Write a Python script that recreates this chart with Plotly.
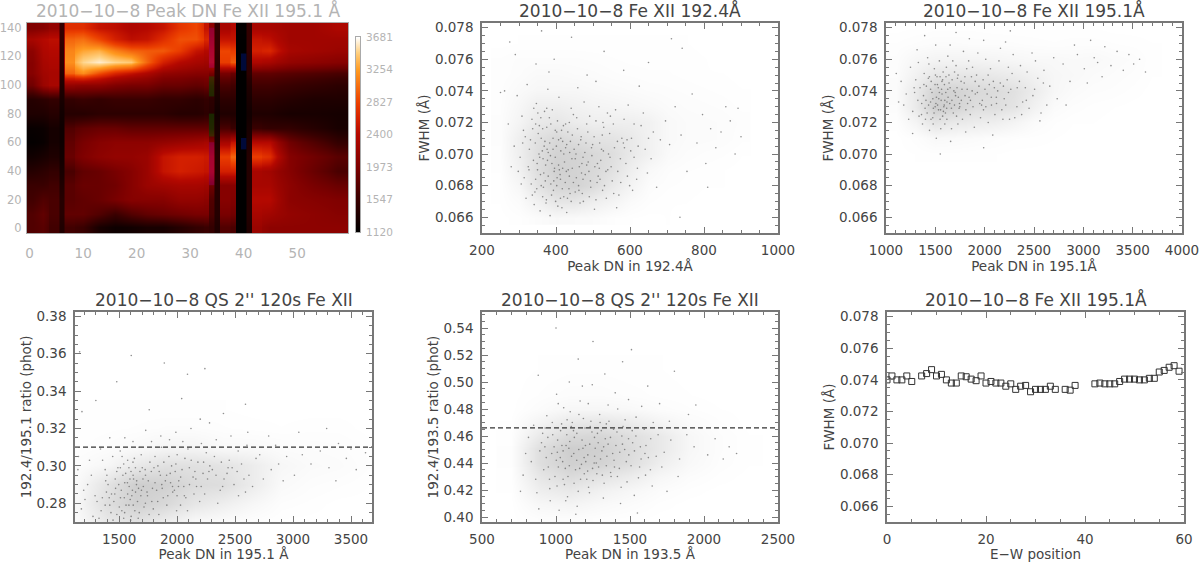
import plotly.graph_objects as go

W, H = 1200, 562

# ---------- heatmap: Peak DN in bands ----------
hm_x_edges = [-0.5,1.5,3.5,5.5,6.5,8.5,11.5,14.5,17.5,20.5,23.5,26.5,29.5,32.5,33.5,34.5,35.5,37.5,38.5,40.5,41.5,43.5,46.5,50.5,55.5,59.5]
hm_y_edges = [-3.4,5,15,25,35,45,55,65,75,85,95,105,112,120,128,136,143.3]
hm_z = [
 [1700,1750,1600,1350,1600,1550,1300,1220,1250,1300,1300,1400,1500,1550,1500,1350,1700,1650,1130,1350,2200,2100,2100,2100,2100],
 [1700,1800,1650,1400,1800,1800,1700,1550,1700,1800,1850,1900,1950,1950,1650,1400,1950,1900,1130,1400,2300,2250,2150,2100,2050],
 [1600,1700,1650,1400,1750,1800,1850,1950,2050,2050,2050,2150,2150,2100,1700,1400,2050,2000,1130,1400,2400,2400,2100,2050,2000],
 [1550,1550,1600,1350,1750,1850,1850,1900,2050,2200,2250,2300,2300,2250,1900,1400,2050,2050,1130,1400,2300,2300,2100,1950,1850],
 [1400,1450,1500,1300,1650,1800,1850,1950,2050,2200,2500,2600,2550,2500,2350,1400,2600,2600,1130,1400,2300,2250,2050,1850,1650],
 [1250,1300,1350,1250,1850,2000,2100,2150,2150,2200,2500,2600,2600,2550,2300,1400,2800,3000,1130,1400,2800,2700,2050,1900,1750],
 [1150,1180,1280,1220,1800,1950,2050,2100,2100,2100,2150,2200,2250,2300,2000,1350,2300,2500,1130,1350,2400,2400,1900,1700,1500],
 [1180,1200,1280,1220,1700,1800,1850,1850,1800,1800,1800,1800,1800,1800,1500,1300,1650,1550,1130,1300,1550,1500,1500,1400,1300],
 [1350,1350,1400,1250,1400,1400,1450,1450,1450,1450,1450,1400,1400,1450,1400,1250,1350,1350,1130,1250,1350,1350,1300,1300,1280],
 [1400,1450,1500,1300,1500,1550,1500,1550,1550,1550,1500,1500,1450,1500,1450,1300,1450,1450,1130,1300,1450,1450,1400,1350,1350],
 [1900,2200,2300,1350,2150,2100,2100,2000,1950,1950,1850,1850,1800,1850,1600,1350,1650,1600,1130,1350,1600,1600,1550,1500,1450],
 [2050,2250,2300,1400,3000,3200,2900,2650,2500,2350,2150,2100,2050,2050,1950,1450,1950,1850,1130,1450,1800,1800,1750,1700,1650],
 [2050,2300,2350,1450,3200,3500,3600,3500,3450,3000,2600,2400,2300,2250,2450,1450,2800,2950,1130,1450,2350,2300,2150,2100,2050],
 [2100,2350,2400,1450,3150,3300,3350,3150,3000,2950,2950,2800,2500,2400,2400,1500,2850,2800,1130,1500,2600,2650,2300,2250,2200],
 [2300,2400,2450,1500,3000,3050,2850,2600,2450,2500,2700,2900,2900,2650,2250,1500,2500,2500,1130,1500,2500,2450,2250,2250,2250],
 [2000,2050,2150,1500,2700,2700,2500,2450,2350,2400,2500,2750,2850,2500,2100,1500,2300,2400,1150,1500,2300,2300,2250,2250,2350],
]
cb_ticks = [1120,1547,1973,2400,2827,3254,3681]
cb_levels = [1120,1240,1360,1480,1600,1720,1840,1960,2080,2200,2320,2440,2560,2680,2800,2920,3040,3160,3280,3400,3520,3681]
# colour casts seen on single columns of the map: (colour, column start, column end, y start, y end)
tints = [("#a000a0",33.5,34.5,30,60),("#a000a0",33.5,34.5,112,140),("#008000",33.5,34.5,64,80),("#008000",33.5,34.5,92,106),("#0020c0",39.5,40.5,55,63),("#0020c0",39.5,40.5,110,122)]

# ---------- dot clouds: points (x = DN, y = FWHM in mA or ratio x1000) ----------
p2 = [(383,70.7),(447,68.2),(352,71.3),(512,69.4),(298,68.9),(421,67.3),(566,70.8),(404,72.1),(339,69.6),(478,70.1),(611,71.9),(366,67.9),(433,69.0),(526,67.7),(392,71.0),(287,70.5),(458,71.6),(347,73.2),(593,68.6),(411,68.7),(503,71.1),(372,69.3),(641,70.3),(319,67.2),(465,66.9),(539,72.6),(386,68.1),(426,70.4),(357,66.4),(574,69.7),(489,68.9),(308,72.4),(441,72.9),(398,69.8),(518,70.7),(663,71.4),(331,70.9),(471,67.5),(378,74.1),(552,68.3),(415,71.5),(345,68.4),(497,69.9),(620,69.1),(363,70.2),(436,68.6),(271,71.9),(529,71.7),(405,66.7),(584,72.2),(454,70.0),(325,69.2),(388,67.4),(508,67.1),(647,68.8),(369,72.7),(423,69.5),(476,73.3),(341,66.8),(558,70.4),(401,70.5),(295,73.7),(444,71.2),(535,68.9),(379,68.6),(602,70.2),(463,69.2),(354,70.0),(417,67.8),(491,72.4),(317,71.1),(570,67.4),(396,69.1),(682,70.9),(439,70.8),(360,68.0),(521,69.6),(408,73.6),(473,68.4),(335,72.2),(545,71.3),(385,69.9),(630,71.8),(429,66.3),(350,69.0),(499,70.6),(375,71.7),(589,69.4),(452,67.6),(303,69.8),(413,70.2),(516,73.0),(367,68.8),(467,70.9),(343,67.6),(561,72.8),(394,68.3),(657,69.7),(436,72.0),(483,69.3),(328,70.3),(531,68.0),(374,67.1),(607,67.7),(420,71.8),(359,72.3),(504,66.5),(449,70.3),(314,68.5),(578,71.0),(399,67.0),(696,72.1),(461,68.0),(381,75.2),(542,70.0),(337,71.6),(486,71.4),(428,68.9),(618,68.4),(365,69.7),(514,68.6),(407,69.3),(279,69.2),(595,73.1),(456,72.3),(348,67.8),(523,70.3),(390,72.8),(672,67.9),(474,67.0),(322,74.4),(549,69.2),(412,68.4),(370,70.8),(636,72.6),(443,69.7),(493,68.3),(333,68.1),(564,66.6),(402,71.4),(707,70.6),(459,74.2),(355,71.8),(527,72.0),(384,66.1),(481,70.7),(722,73.0),(418,69.1),(310,70.7),(599,68.0),(470,69.4),(738,71.2),(376,70.3),(508,74.6),(431,67.2),(261,74.0),(556,67.5),(346,75.7),(754,68.9),(484,75.0),(625,74.3),(395,76.0),(768,73.8),(530,76.5),(290,76.3),(781,70.7),(583,75.3),(796,72.5),(442,77.4),(805,69.4),(650,75.8),(818,71.6),(361,77.8),(832,70.4),(712,77.3),(846,71.4),(275,77.1),(859,73.0),(735,66.0),(871,72.1),(741,76.7),(884,70.0),(892,72.9),(900,71.1),(810,67.9),(250,73.9),
 (389,69.4),(413,71.0),(452,69.7),(371,68.3),(494,67.9),(437,70.1),(356,69.8),(528,70.2),(402,68.0),(468,71.1),(344,70.7),(582,70.7),(425,68.2),(379,70.1),(511,68.2),(461,70.6),(398,71.5),(336,67.4),(546,69.8),(418,70.8),(487,69.5),(364,71.6),(604,71.0),(441,67.0),(373,66.9),(525,71.2),(409,69.0),(479,68.7),(351,72.6),(567,68.9),(432,71.4),(393,67.7),(505,69.2),(327,69.0),(455,68.5),(622,70.5),(386,71.9),(540,69.0),(421,70.0),(364,67.3),(473,69.8),(412,67.2),(592,70.9),(447,72.5),(306,68.1),(519,68.4),(382,72.3),(435,67.8),(368,70.5),(555,71.9),(496,70.4),(403,68.5),(340,72.9),(462,67.7),(611,69.8),(426,71.9),(377,69.6),(508,72.1),(349,69.4),(536,67.2),(444,69.1),(392,70.3),(575,68.2),(416,66.6),(483,71.9),(358,68.7),(650,71.0),(429,70.6),(469,68.8),(395,68.9),(312,71.5),(547,72.4),(407,70.9),(490,67.3),(360,71.0),(585,70.4),(438,67.5),(375,72.9),(517,69.1),(345,71.9)]
p3 = [(1523,73.1),(1688,74.0),(1417,72.6),(1976,73.4),(1302,74.7),(1854,72.5),(2241,73.9),(1579,75.2),(1466,73.9),(2088,74.6),(1741,72.9),(1362,73.2),(2412,74.2),(1629,73.6),(1918,75.0),(1248,75.5),(1548,72.2),(2174,72.8),(1793,74.5),(1497,74.4),(2327,73.0),(1664,71.6),(1387,75.1),(2025,73.8),(1586,73.0),(1827,73.2),(2539,74.8),(1441,71.5),(1710,75.6),(2132,74.0),(1205,73.8),(1958,72.3),(1511,73.6),(2278,75.1),(1639,74.5),(1335,72.4),(1873,74.0),(2450,72.9),(1563,74.1),(1763,73.4),(2059,75.4),(1429,74.8),(1602,72.6),(2198,73.5),(1290,73.9),(1984,74.7),(1480,72.9),(1694,73.1),(2363,75.6),(1818,75.4),(1541,75.9),(1153,74.6),(2104,72.5),(1396,72.9),(1646,73.2),(2601,75.3),(1905,73.8),(1510,71.0),(1775,72.2),(2228,74.7),(1328,75.8),(1592,74.4),(2036,72.0),(1452,73.3),(1724,74.8),(2489,73.7),(1866,74.9),(1615,72.9),(1271,72.7),(2145,75.9),(1535,73.5),(1942,74.3),(2305,72.3),(1409,74.3),(1677,75.9),(1801,73.7),(2571,72.6),(1490,75.4),(1104,75.1),(2069,73.1),(1574,74.7),(1370,71.9),(2252,72.2),(1748,73.0),(1895,71.7),(1627,76.2),(2430,75.2),(1458,74.6),(2011,76.0),(1230,72.2),(1705,73.7),(2660,74.3),(1553,72.8),(1838,75.9),(2190,74.3),(1345,74.2),(1655,70.8),(1969,73.1),(2735,73.5),(1422,76.1),(2118,73.6),(1517,74.9),(1785,76.5),(2352,74.6),(1606,73.9),(1180,73.1),(2515,75.9),(1882,73.0),(1474,72.3),(2047,74.4),(2795,75.7),(1730,75.0),(1315,76.6),(2160,76.7),(1596,71.9),(1931,76.4),(2865,74.6),(1380,73.7),(2289,76.3),(1668,73.4),(1808,71.4),(2480,76.4),(1504,76.9),(2940,76.3),(1128,73.3),(2082,71.2),(1720,74.2),(2630,73.1),(1435,75.7),(2212,77.1),(3010,75.4),(1567,74.6),(1990,77.2),(2385,73.3),(3074,77.2),(1270,71.3),(1845,77.3),(2700,76.1),(3145,75.8),(1650,76.9),(2560,72.1),(3218,76.8),(1392,77.5),(2825,73.1),(3280,75.6),(1990,70.4),(2910,76.9),(3342,76.5),(1550,70.0),(3040,74.5),(3405,75.3),(2260,77.8),(3110,76.1),(3462,76.3),(1710,77.7),(3190,74.9),(3510,75.7),(3570,76.0),(3630,75.2),
 (1532,72.8),(1618,73.3),(1475,73.5),(1701,73.9),(1568,73.8),(1842,73.6),(1432,73.1),(2003,74.1),(1650,74.2),(1521,74.4),(1770,74.1),(2120,73.2),(1384,74.4),(1596,73.4),(1926,73.9),(1487,72.6),(2214,73.1),(1682,72.6),(1548,74.9),(1810,72.8),(1452,74.1),(2067,73.6),(1617,72.2),(2330,74.2),(1733,73.6),(1506,73.2),(1988,72.8),(1582,72.7),(1405,73.4),(2158,74.5),(1670,74.7),(1856,73.4),(1541,73.9),(2422,73.4),(1638,75.0),(1456,72.2),(1761,74.6),(2035,75.0),(1590,73.1),(1323,73.4),(2265,74.1),(1715,72.4),(1498,73.0),(1904,74.6),(1555,71.6),(1626,74.1),(2098,74.2),(1800,74.9),(1440,74.9),(2506,74.1),(1695,75.2),(1530,74.2),(1950,73.2),(1360,72.5),(1612,75.5),(2185,72.2),(1745,73.2),(1478,71.9),(2375,72.5),(1877,75.5),(1559,73.4),(1663,72.9),(2012,73.0),(1285,74.2),(1574,72.4),(2595,74.5),(1823,74.1),(1501,75.0),(1729,71.9),(2240,75.5),(1608,74.9),(1400,72.2)]
p4 = [(1572,291),(1688,284),(1941,296),(1420,279),(2283,300),(1621,295),(1824,287),(2556,301),(1519,287),(2015,292),(1345,276),(1752,292),(2168,289),(1604,273),(2431,296),(1886,302),(1467,293),(2076,283),(1659,281),(2322,305),(1391,286),(1795,277),(2620,295),(1540,301),(1977,287),(2224,296),(1709,289),(1293,284),(1856,295),(2491,290),(1596,282),(2122,303),(1448,271),(1912,279),(2372,287),(1641,299),(1229,290),(2043,298),(1766,302),(2681,304),(1502,278),(2195,281),(1872,288),(1380,298),(2590,286),(1674,275),(2001,306),(1557,296),(2263,293),(1327,272),(1833,281),(2744,293),(1728,295),(2107,290),(1435,285),(1953,300),(2450,303),(1615,287),(2351,280),(1175,277),(1801,299),(2154,297),(1526,305),(1996,276),(2812,298),(1691,306),(1261,295),(2063,284),(2527,308),(1481,274),(1899,292),(2238,285),(1585,279),(2405,293),(1358,303),(1745,284),(2094,309),(2876,301),(1650,290),(1206,282),(2304,298),(1930,305),(1545,283),(2651,289),(1405,290),(1843,274),(2180,302),(1778,297),(2945,305),(1632,304),(2030,279),(1310,281),(2475,299),(1961,289),(1145,298),(2603,311),(1715,278),(2138,294),(1490,299),(3012,295),(1866,310),(2393,289),(1600,271),(2252,307),(1275,273),(1810,305),(3080,306),(2050,313),(1510,308),(2713,306),(1380,279),(2210,312),(3155,301),(1935,314),(1670,310),(2530,284),(1245,303),(3235,308),(2090,276),(1445,305),(2338,314),(2790,316),(1780,313),(3310,299),(1195,287),(2465,316),(1620,313),(2915,292),(1990,318),(3392,312),(1340,309),(2120,320),(3460,304),(2610,318),(1860,316),(3545,298),(1550,315),(2280,323),(3050,318),(3625,307),(1730,319),(2200,325),(3290,320),(1150,305),(1420,315),(2850,311),(1605,359),(1890,355),(2090,349),(2240,352),(1480,345),(1160,361),(2040,336),(2590,333),(1300,335),(2400,328),(1180,329),(1760,330),(3370,292),(3500,309),
 (1587,289),(1625,293),(1549,291),(1668,288),(1512,283),(1910,295),(1984,297),(1603,297),(1706,293),(1470,288),(2031,294),(1574,285),(1642,286),(1868,290),(1533,295),(1741,286),(1944,291),(2275,297),(1594,293),(1415,283),(1680,297),(2106,299),(1560,279),(1782,281),(1497,290),(2012,289),(1652,292),(1846,297),(1610,284),(2229,302),(1524,276),(1727,280),(1963,286),(1385,292),(1636,276),(2162,293),(1585,299),(1810,291),(1455,281),(2068,304),(1700,299),(1540,272),(1920,284),(2518,297),(1356,283),(1622,279),(2336,295),(1759,274),(1480,297),(1990,301),(1665,272),(2146,285),(1574,303),(1835,300),(1430,275),(2440,299),(1693,287),(1511,299),(2058,289),(1881,283),(1620,302),(2208,289),(1395,295),(2577,293),(1725,298),(1463,285),(2000,284),(1548,275),(1788,288),(2382,302)]
p5 = [(1087,451),(1243,463),(948,437),(1392,442),(1166,428),(1038,469),(1518,455),(1310,449),(902,455),(1201,441),(1453,467),(1007,423),(1124,459),(1624,444),(1276,432),(971,447),(1358,471),(1063,436),(1570,452),(1185,473),(833,441),(1428,436),(1228,454),(1011,457),(1480,426),(1105,445),(1690,461),(927,466),(1333,458),(1150,419),(1541,474),(1052,481),(1261,445),(863,428),(1405,453),(1638,435),(1196,466),(993,430),(1492,446),(1078,415),(1731,448),(1295,476),(891,449),(1372,430),(1132,435),(1596,465),(961,412),(1218,484),(1445,460),(1029,444),(1776,457),(1340,438),(1110,470),(814,459),(1557,429),(1250,427),(938,475),(1657,470),(1417,480),(1073,461),(1182,451),(1835,443),(1507,438),(1306,464),(871,418),(1004,491),(1383,447),(1608,453),(1143,408),(1272,440),(1715,437),(917,435),(1464,450),(1048,428),(1884,461),(1226,418),(1352,483),(978,461),(1579,482),(1096,478),(1650,423),(795,447),(1440,422),(1163,486),(1766,471),(1021,405),(1285,455),(1933,452),(1529,416),(849,468),(1214,434),(1400,492),(1677,445),(1066,412),(1825,430),(1325,425),(958,421),(1980,466),(1490,487),(1134,402),(778,431),(1605,431),(1245,498),(2025,446),(1750,419),(1015,484),(1436,410),(1895,476),(884,406),(1178,497),(2075,458),(1550,403),(1320,414),(760,419),(2130,443),(1700,484),(1090,500),(2170,452),(1000,540),(1250,530),(1150,517),(1450,515),(1330,506),(880,505),(1620,497),(1800,508),(1510,524),(1945,483),(2220,447),
 (1120,447),(1199,453),(1045,441),(1288,437),(1141,462),(987,452),(1368,459),(1081,430),(1236,471),(1431,448),(1016,437),(1172,439),(1322,452),(934,444),(1475,441),(1215,446),(1093,456),(1389,465),(1260,459),(1031,464),(1540,460),(1154,450),(956,428),(1301,443),(1415,430),(1068,453),(1601,447),(1191,432),(1340,469),(910,462),(1122,425),(1467,472),(1247,436),(1009,448),(1565,437),(1103,467),(1280,462),(1369,433),(1176,457),(1057,424),(1640,458),(1208,428),(975,470),(1449,454),(1140,442),(1313,431),(1040,453),(1515,464),(1231,467),(1090,438),(1395,437),(1265,451),(925,452),(1160,436),(1344,445),(1002,442),(1490,458),(1220,422),(1075,472),(1575,443),(1298,470),(1118,464),(1412,463),(1190,444),(1352,454),(945,459),(1258,440),(1048,449),(1530,449),(1155,476)]

# ---------- dot density, 0 (none) .. 10 (densest) ----------
d2_x = [250,300,350,400,450,500,550,600,650,700,750,800,850,900]
d2_y = [66,67,68,69,70,71,72,73,74,75,76,77]
d2_z = [
 [0,.2,.7,1.2,1,.8,.3,.1,0,.1,0,0,0,0],
 [.1,.7,2.5,4.5,4.5,3,2,.8,.3,.1,.1,0,0,0],
 [.1,1.5,5,7.5,8,6.5,4,2,.6,.3,.2,.1,.1,0],
 [.3,2.5,6,8.5,8,7,5.5,3,1.2,.5,.3,.2,.1,0],
 [.4,3,6,8,8,7,6,4,2.5,1,.6,.4,.3,.1],
 [.5,3,5.5,7,6,5,5,4,2.5,1.2,.8,.7,.6,.3],
 [.5,2,4,4.5,3.5,3,3,3,2.5,1.2,.8,.7,.6,.4],
 [.4,1.5,3,3,2.5,2,1.8,1.5,1.2,.8,.6,.5,.4,.2],
 [.4,1,1.5,1.5,1.5,1.2,1,.8,.6,.5,.4,.3,.2,.1],
 [.3,.6,1,1,.8,.7,.5,.4,.3,.3,.2,.1,.1,0],
 [.3,.5,.5,.5,.5,.4,.3,.2,.2,.2,.2,.1,0,0],
 [0,.1,.1,.1,.1,.1,.1,.1,.1,.1,.1,0,0,0],
]
d3_x = [1100,1300,1500,1700,1900,2100,2300,2500,2700,2900,3100,3300,3500,3700]
d3_y = [70,71,72,73,74,75,76,77,78]
d3_z = [
 [0,.1,.2,.2,.1,.1,0,0,0,0,0,0,0,0],
 [0,.4,1.2,1,.8,.5,.3,.2,.1,0,0,0,0,0],
 [.2,2,5,4,3.5,3,2,.8,.3,.1,.1,0,0,0],
 [.6,4,9,8,6,6,5,2.5,.8,.4,.2,.1,0,0],
 [.8,4,8,8,7,6.5,5.5,3.5,1.5,.8,.5,.4,.2,0],
 [.6,2.5,4.5,4.5,4.5,4,3.5,2.5,1.5,1.2,.8,.6,.4,.1],
 [.5,1.5,2,2,2,1.8,1.5,1.2,1.2,1,1.2,.8,.6,.1],
 [.3,.5,.7,.7,.6,.6,.5,.4,.3,.4,.4,.3,.2,.1],
 [0,.1,.2,.2,.2,.1,.1,.1,.1,.1,.1,0,0,0],
]
d4_x = [1150,1400,1650,1900,2150,2400,2650,2900,3150,3400,3650]
d4_y = [270,280,290,300,310,320,330]
d4_z = [
 [1,4,5,3,1,.5,.2,0,0,0,0],
 [1.5,6,8.5,7,4.5,3,1.5,.4,.2,0,0],
 [1.2,5,9,8.5,6.5,6,3.5,1,.5,.3,.1],
 [.6,1.5,4,5.5,5.5,5,3.5,1.5,.9,.7,.3],
 [.2,.5,1,1.8,1.8,1,1,.7,.6,.5,.2],
 [.1,.2,.3,.5,.5,.3,.2,.1,.2,.2,0],
 [.1,.1,.1,.1,.1,.1,0,0,0,0,0],
]
d5_x = [700,900,1100,1300,1500,1700,1900,2100,2300]
d5_y = [400,410,420,430,440,450,460,470,480,490,510]
d5_z = [
 [0,.5,.6,.4,.2,0,0,0,0],
 [0,1.5,2,1.2,.7,.2,0,0,0],
 [.1,3,4,2.5,1.5,.6,.2,0,0],
 [.2,4.5,6.5,5,3.5,1.5,.6,.2,0],
 [.3,6,8.5,8,6,3,1.2,.4,.1],
 [.3,6,9,8.5,6.5,4,1.5,.5,.1],
 [.2,4,7,7.5,6,4,1.5,.5,.1],
 [.1,2,4,4.5,3.5,2,.8,.3,0],
 [0,.7,1.5,1.5,1.2,.6,.3,.1,0],
 [0,.3,.6,.6,.4,.2,.1,0,0],
 [0,.1,.2,.2,.1,.1,0,0,0],
]

# ---------- panel 6: E-W position vs FWHM (mA) ----------
p6_x = [0,1,2,3,4,5,7,8,9,10,11,12,13,14,15,16,17,18,19,20,21,22,23,24,25,26,27,28,29,30,31,32,33,34,36,37,38,42,43,44,45,46,47,48,49,50,51,52,53,54,55,56,57,58,59]
p6_y = [74.0,74.25,74.0,74.0,74.25,73.9,74.25,74.4,74.65,74.25,74.35,74.0,73.8,73.8,74.25,74.2,74.05,73.95,74.25,73.8,73.9,73.8,73.8,73.6,73.75,73.4,73.6,73.65,73.25,73.4,73.4,73.4,73.6,73.4,73.4,73.35,73.65,73.75,73.8,73.75,73.75,73.75,73.9,74.05,74.05,74.05,74.0,74.0,74.1,74.1,74.5,74.6,74.8,74.9,74.55]

ratio_line_195 = 0.31
ratio_line_193 = 0.466

FONT = "DejaVu Sans"
INK = "#444444"
GREY = "#b4b4b4"
AXC = "#777777"
HEAT = [[0,"#000000"],[0.17,"#3a0000"],[0.333,"#7c0000"],[0.5,"#b40800"],[0.58,"#d42000"],[0.667,"#ec4000"],[0.833,"#ff9a20"],[0.92,"#ffd080"],[1,"#ffffff"]]

def xdom(a, b): return [a / W, b / W]
def ydom(top, bottom): return [1 - bottom / H, 1 - top / H]

fig = go.Figure()

# dark stripes and their neighbours are split in three equal-valued strips so their edges stay sharp
SHARP = {2, 3, 4, 13, 14, 15, 16, 17, 18, 19, 20}
EPS = 0.1
edges3, reps = [], []
for i, (a, b) in enumerate(zip(hm_x_edges[:-1], hm_x_edges[1:])):
    if i in SHARP:
        edges3 += [a, a + EPS, b - EPS]
        reps.append(3)
    else:
        edges3.append(a)
        reps.append(1)
edges3.append(hm_x_edges[-1])
z3 = [[v for v, n in zip(row, reps) for _ in range(n)] for row in hm_z]

fig.add_trace(go.Heatmap(x=edges3, y=hm_y_edges, z=z3, zmin=1120, zmax=3681, zsmooth="best",
                         xaxis="x", yaxis="y", colorscale=HEAT, showscale=False))

fig.add_trace(go.Heatmap(x=[0, 1], y=cb_levels, z=[[v] for v in cb_levels], zmin=1120, zmax=3681, zsmooth="best",
                         xaxis="x7", yaxis="y7", colorscale=HEAT, showscale=False))

def cloud(pts, dx, dy, dz, xa, ya, yscale):
    fig.add_trace(go.Heatmap(x=dx, y=[v / yscale for v in dy], z=dz, zmin=0, zmax=10, zsmooth="best",
                             colorscale=[[0,"#ffffff"],[1,"#c8c8c8"]], showscale=False, xaxis=xa, yaxis=ya))
    fig.add_trace(go.Scatter(x=[p[0] for p in pts], y=[p[1] / yscale for p in pts], mode="markers",
                             marker=dict(color="#555555", size=1.6, opacity=0.65, line=dict(width=0)),
                             xaxis=xa, yaxis=ya, showlegend=False))

cloud(p2, d2_x, d2_y, d2_z, "x2", "y2", 1000)
cloud(p3, d3_x, d3_y, d3_z, "x3", "y3", 1000)
cloud(p4, d4_x, d4_y, d4_z, "x4", "y4", 1000)
cloud(p5, d5_x, d5_y, d5_z, "x5", "y5", 1000)

fig.add_trace(go.Scatter(
    x=p6_x, y=[v / 1000 for v in p6_y], mode="markers",
    marker=dict(symbol="square-open", size=6, color="#333333", line=dict(width=1, color="#333333")),
    xaxis="x6", yaxis="y6", showlegend=False))

def dashed(xr, v, xa, ya):
    fig.add_trace(go.Scatter(x=xr, y=[v, v], mode="lines", line=dict(color="#333333", width=1.2, dash="5px,3px"),
                             xaxis=xa, yaxis=ya, showlegend=False))

dashed([1120, 3681], ratio_line_195, "x4", "y4")
dashed([500, 2500], ratio_line_193, "x5", "y5")

TF = 13.5
def axis(dom, rng, dtick, minor, title, anchor, fmt=None, standoff=4):
    d = dict(domain=dom, range=rng, dtick=dtick, tick0=0, anchor=anchor, automargin=False,
             ticks="inside", ticklen=6, tickwidth=1, tickcolor=AXC,
             minor=dict(dtick=minor, ticks="inside", ticklen=3, tickwidth=1, tickcolor=AXC, showgrid=False),
             showline=True, linecolor=AXC, linewidth=1.5, mirror="ticks", showgrid=False, zeroline=False,
             tickfont=dict(family=FONT, size=TF, color=INK), ticklabelstandoff=4,
             title=dict(text=title, font=dict(family=FONT, size=TF, color=INK), standoff=standoff))
    if fmt: d["tickformat"] = fmt
    return d

X2, X3, X1, X4, X5, X6 = (482,778), (886,1182), (27,348), (75,372), (482,778), (887,1184)
TOP, BOT = (23,233), (312,522)
fw = [0.065, 0.0783]

layout = dict(
    template="none",
    width=W, height=H, margin=dict(l=0, r=0, t=0, b=0), paper_bgcolor="white", plot_bgcolor="white", showlegend=False,
    xaxis=dict(domain=xdom(*X1), range=[-0.5,59.5], dtick=10, tick0=0, anchor="y", showgrid=False, zeroline=False, ticks="", automargin=False,
               showline=True, linecolor="#aaaaaa", linewidth=1, mirror=True, ticklabelstandoff=8,
               tickfont=dict(family=FONT, size=TF, color=GREY)),
    yaxis=dict(domain=ydom(*TOP), range=[-3.4,143.3], dtick=20, tick0=0, anchor="x", showgrid=False, zeroline=False, ticks="", automargin=False,
               showline=True, linecolor="#aaaaaa", linewidth=1, mirror=True, ticklabelstandoff=2,
               tickfont=dict(family=FONT, size=11.5, color=GREY)),
    xaxis2=axis(xdom(*X2), [200,1000], 200, 50, "Peak DN in 192.4Å", "y2"),
    yaxis2=axis(ydom(*TOP), fw, 0.002, 0.0005, "FWHM (Å)", "x2", fmt=".3f", standoff=2),
    xaxis3=axis(xdom(*X3), [1000,4000], 500, 100, "Peak DN in 195.1Å", "y3"),
    yaxis3=axis(ydom(*TOP), fw, 0.002, 0.0005, "FWHM (Å)", "x3", fmt=".3f", standoff=2),
    xaxis4=axis(xdom(*X4), [1120,3681], 500, 100, "Peak DN in 195.1 Å", "y4"),
    yaxis4=axis(ydom(*BOT), [0.27,0.3823], 0.02, 0.005, "192.4/195.1 ratio (phot)", "x4", fmt=".2f", standoff=2),
    xaxis5=axis(xdom(*X5), [500,2500], 500, 100, "Peak DN in 193.5 Å", "y5"),
    yaxis5=axis(ydom(*BOT), [0.3963,0.5519], 0.02, 0.005, "192.4/193.5 ratio (phot)", "x5", fmt=".2f", standoff=2),
    xaxis6=axis(xdom(*X6), [0,60], 20, 5, "E−W position", "y6"),
    yaxis6=axis(ydom(*BOT), fw, 0.002, 0.0005, "FWHM (Å)", "x6", fmt=".3f", standoff=2),
    xaxis7=dict(domain=xdom(356,360), range=[0,1], anchor="y7", showticklabels=False, ticks="", showgrid=False, zeroline=False, automargin=False,
                showline=True, linecolor="#aaaaaa", linewidth=1, mirror=True),
    yaxis7=dict(domain=ydom(37,232), range=[1120,3681], anchor="x7", side="right", tickvals=cb_ticks, ticks="", showgrid=False, zeroline=False, automargin=False,
                showline=True, linecolor="#aaaaaa", linewidth=1, mirror=True, ticklabelstandoff=3,
                tickfont=dict(family=FONT, size=10.5, color=GREY)),
    shapes=[dict(type="rect", xref="x", yref="y", x0=a, x1=b, y0=c, y1=d, fillcolor=col, opacity=0.3, line=dict(width=0))
            for col, a, b, c, d in tints],
)
fig.update_layout(**layout)

titles = [
    ("2010−10−8 Peak DN Fe XII 195.1 Å", sum(X1)/2, 11, GREY),
    ("2010−10−8 Fe XII 192.4Å", sum(X2)/2, 11, INK),
    ("2010−10−8 Fe XII 195.1Å", sum(X3)/2, 11, INK),
    ("2010−10−8 QS 2'' 120s Fe XII", sum(X4)/2, 300, INK),
    ("2010−10−8 QS 2'' 120s Fe XII", sum(X5)/2, 300, INK),
    ("2010−10−8 Fe XII 195.1Å", sum(X6)/2, 300, INK),
]
for text, cx, cy, col in titles:
    fig.add_annotation(text=text, x=cx / W, y=1 - cy / H, xref="paper", yref="paper", showarrow=False,
                       xanchor="center", yanchor="middle", font=dict(family=FONT, size=17, color=col))

fig.write_html("out.html", config={"displayModeBar": False}, post_script="document.body.style.margin='0';")
